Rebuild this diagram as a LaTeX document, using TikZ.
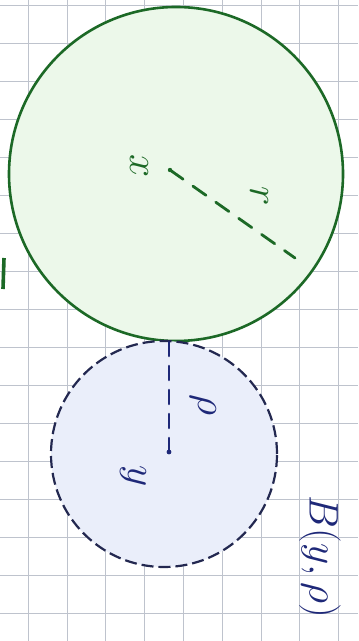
\documentclass[tikz,border=0pt]{standalone}
\usetikzlibrary{calc}
\definecolor{gline}{RGB}{28,105,38}
\definecolor{gfill}{RGB}{236,248,234}
\definecolor{bline}{RGB}{35,40,80}
\definecolor{bfill}{RGB}{234,238,250}
\definecolor{btext}{RGB}{30,40,120}
\definecolor{gridc}{RGB}{190,195,205}
\tikzset{
  gridline/.style={draw=gridc, line width=0.3pt},
  greencirc/.style={circle, draw=gline, fill=gfill, line width=1.3pt, inner sep=0pt, minimum size=167pt},
  bluecirc/.style={circle, draw=bline, fill=bfill, line width=1.1pt, dash pattern=on 6pt off 2.5pt, inner sep=0pt, minimum size=113pt},
  rline/.style={draw=gline, line width=1.4pt, dash pattern=on 8pt off 6pt, line cap=round},
  pline/.style={draw=btext, line width=1.3pt, dash pattern=on 7pt off 5pt, line cap=round},
  glabel/.style={text=gline, font=\huge, rotate=-90, inner sep=0pt},
  blabel/.style={text=btext, font=\huge, rotate=-90, inner sep=0pt},
}
\begin{document}
\begin{tikzpicture}[x=0.5pt,y=-0.5pt]
\useasboundingbox (0,0) rectangle (358,641);
\fill[white] (0,0) rectangle (358,641);
% graph paper grid
\foreach \i in {0,...,9} {\draw[gridline] ({28+38.8*\i},0) -- ({28+38.8*\i},641);}
\foreach \j in {0,...,16} {\draw[gridline] (0,{5+38*\j}) -- (358,{5+38*\j});}
% circles
\node[greencirc] (G) at (176,174) {};
\node[bluecirc] (Bc) at (164,454) {};
% radius r
\coordinate (gc) at (170,170);
\coordinate (rend) at (295,258);
\draw[rline] (gc) -- (rend);
\fill[gline] (gc) circle (2.2);
\node[glabel] (xl) at (139,166) {$x$};
\node[glabel] (rl) at (259,196) {$r$};
% radius rho
\coordinate (ptop) at (169,342);
\coordinate (bc) at (169,452);
\draw[pline] (ptop) -- (bc);
\fill[btext] (bc) circle (2.4);
\node[blabel] (pl) at (203,405) {$\rho$};
\node[blabel] (yl) at (133,476) {$y$};
\node[blabel] (Bl) at (320,557) {$B(y,\rho)$};
% small mark at left edge
\coordinate (m1) at (4,258);
\coordinate (m2) at (3,289);
\draw[gline, line width=1.8pt] (m1) -- (m2);
\end{tikzpicture}
\end{document}
